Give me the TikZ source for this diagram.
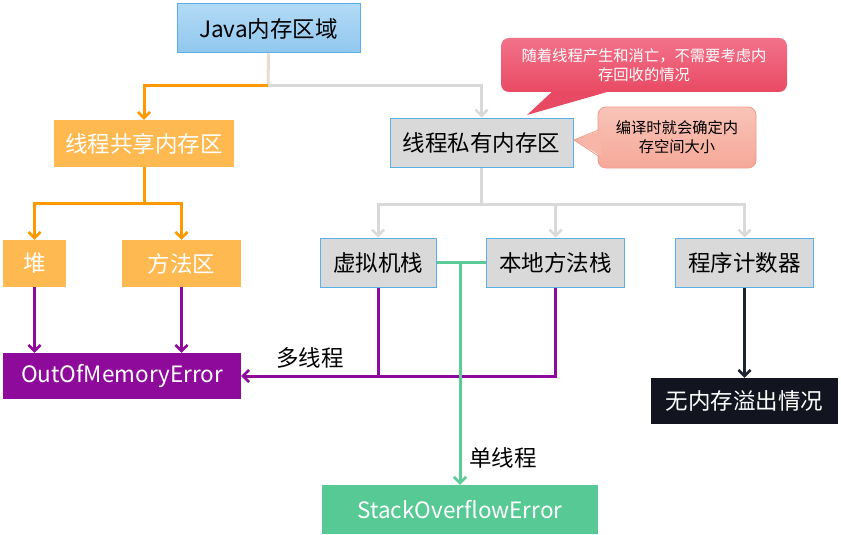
\documentclass[tikz,border=0pt]{standalone}
\usepackage{fontspec}
\setmainfont{Noto Sans CJK SC}
\usetikzlibrary{arrows.meta}
\definecolor{borange}{HTML}{FFB951}
\definecolor{lorange}{HTML}{FF9900}
\definecolor{lgray}{HTML}{D9D9D9}
\definecolor{bblue}{HTML}{5AB0E6}
\definecolor{ppl}{HTML}{8E0A9A}
\definecolor{grn}{HTML}{57C994}
\definecolor{grnl}{HTML}{5CCC96}
\definecolor{navy}{HTML}{12151F}
\definecolor{dline}{HTML}{1F2330}
\definecolor{stub}{HTML}{E8DCCF}
\definecolor{redt}{HTML}{F2728A}
\definecolor{redb}{HTML}{E94A63}
\definecolor{salt}{HTML}{F8C4B8}
\definecolor{salb}{HTML}{F5A898}
\definecolor{salbd}{HTML}{F09A88}
\definecolor{javat}{HTML}{B2DAF5}
\definecolor{javab}{HTML}{90C7EE}
\tikzset{
  box/.style={rectangle, inner sep=0pt, font=\fontsize{22.5}{26}\selectfont, align=center},
  orangebox/.style={box, fill=borange, text=white},
  graybox/.style={box, fill=lgray, draw=bblue, line width=1pt, text=black},
  conn/.style={line width=3pt},
  tip/.style={-{Straight Barb[length=6pt,width=12pt,line width=2.6pt]}},
  lbl/.style={font=\fontsize{22.5}{26}\selectfont, inner sep=0pt, text=black},
  calltxt/.style={font=\fontsize{15.3}{19}\selectfont, align=center, inner sep=0pt},
}
\begin{document}
\begin{tikzpicture}[x=1pt,y=-1pt]
\useasboundingbox (0,0) rectangle (841,535);
% nodes
\node[box, top color=javat, bottom color=javab, draw=bblue, line width=1pt, minimum width=183pt, minimum height=49pt] (java) at (268.5,28.5) {Java内存区域};
\node[orangebox, minimum width=180pt, minimum height=47pt] (share) at (144,143.5) {线程共享内存区};
\node[graybox, minimum width=183pt, minimum height=49pt] (priv) at (481.5,142.5) {线程私有内存区};
\node[orangebox, minimum width=63pt, minimum height=47pt] (heap) at (34.5,263.5) {堆};
\node[orangebox, minimum width=119pt, minimum height=47pt] (method) at (181.5,263.5) {方法区};
\node[graybox, minimum width=116pt, minimum height=49pt] (vm) at (378,262.5) {虚拟机栈};
\node[graybox, minimum width=138pt, minimum height=49pt] (nm) at (555.5,262.5) {本地方法栈};
\node[graybox, minimum width=138pt, minimum height=49pt] (pc) at (744.5,262.5) {程序计数器};
\node[box, fill=ppl, text=white, minimum width=238pt, minimum height=46pt] (oom) at (122,376) {OutOfMemoryError};
\node[box, fill=navy, text=white, minimum width=187pt, minimum height=46pt] (none) at (744.5,401) {无内存溢出情况};
\node[box, fill=grn, text=white, minimum width=276pt, minimum height=49pt] (soe) at (460,509.5) {StackOverflowError};
% callouts
\fill[redb] (556,88) -- (527,115) -- (621,88) -- cycle;
\node[rectangle, rounded corners=8pt, top color=redt, bottom color=redb, minimum width=286pt, minimum height=54pt, inner sep=0pt] (c1) at (644,65) {};
\node[calltxt, text=white] (c1t) at (c1.center) {随着线程产生和消亡，不需要考虑内\\存回收的情况};
\node[rectangle, rounded corners=8pt, top color=salt, bottom color=salb, draw=salbd, line width=0.8pt, minimum width=158pt, minimum height=61pt, inner sep=0pt] (c2) at (677,137.5) {};
\fill[salt!50!salb] (601,130) -- (574,140) -- (601,156) -- cycle;
\draw[salbd, line width=0.8pt] (598.4,130) -- (574,140) -- (598.4,156);
\node[calltxt, text=black] (c2t) at (c2.center) {编译时就会确定内\\存空间大小};
% connectors top
\coordinate (j1) at (268,86);
\draw[conn, stub] (java.south) -- (j1);
\draw[conn, lorange, tip] (j1) -| (share.north);
\draw[conn, lgray, tip] (j1) -| (priv.north);
% shared branch
\coordinate (s1) at (144,203);
\draw[conn, lorange] (share.south) -- (s1);
\draw[conn, lorange, tip] (s1) -| (heap.north);
\draw[conn, lorange, tip] (s1) -| (method.north);
% private branch
\coordinate (p1) at (481.5,204);
\draw[conn, lgray] (priv.south) -- (p1);
\draw[conn, lgray, tip] (p1) -| (vm.north);
\draw[conn, lgray, tip] (p1) -| (nm.north);
\draw[conn, lgray, tip] (p1) -| (pc.north);
% purple
\draw[conn, ppl, tip] (heap.south) -- (heap.south |- oom.north);
\draw[conn, ppl, tip] (method.south) -- (method.south |- oom.north);
\draw[conn, ppl] (vm.south) -- (vm.south |- oom.east);
\draw[conn, ppl, tip] (nm.south) |- (oom.east);
% green
\coordinate (g1) at (460,263);
\draw[conn, grnl] (vm.east) -- (nm.west);
\draw[conn, grnl, tip] (g1) -- (g1 |- soe.north);
% dark
\draw[conn, dline, tip] (pc.south) -- (none.north);
% labels
\node[lbl, anchor=west] (multi) at (276,358) {多线程};
\node[lbl, anchor=west] (single) at (469,458) {单线程};
\end{tikzpicture}
\end{document}
